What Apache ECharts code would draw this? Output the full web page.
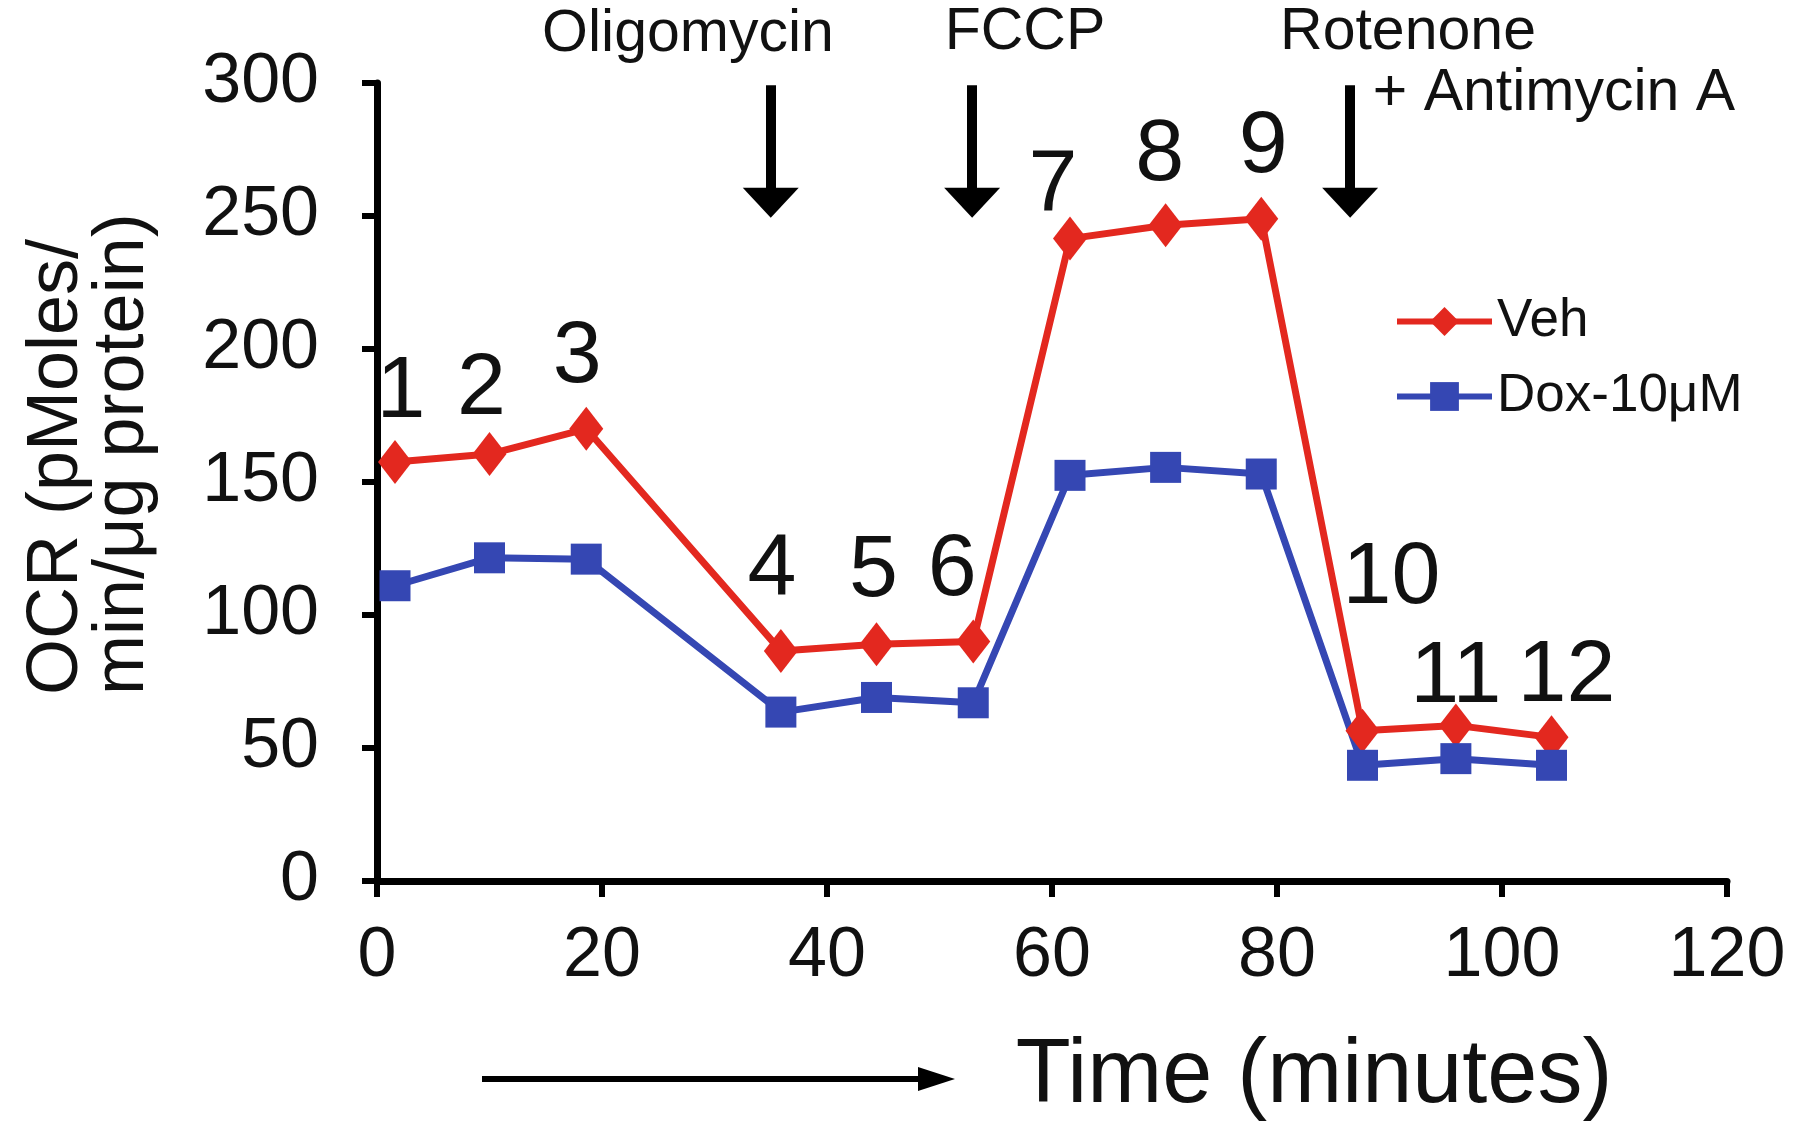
<!DOCTYPE html>
<html>
<head>
<meta charset="utf-8">
<script src="https://cdn.jsdelivr.net/npm/echarts@6/dist/echarts.min.js"></script>
<style>
html,body{margin:0;padding:0;background:#fff;}
#chart{width:1800px;height:1128px;}
</style>
</head>
<body>
<div id="chart"></div>
<script>
// ---- data ----
var times = [1.6, 10.0, 18.6, 35.9, 44.4, 53.0, 61.6, 70.1, 78.6, 87.6, 95.9, 104.4];
var vehValues = [157.5, 160.5, 170, 86.5, 89, 90, 241.5, 246.5, 249, 56.5, 58.5, 54];
var doxValues = [111, 121.5, 121, 63.5, 69, 67, 152.5, 155.5, 153, 43.5, 46, 43.5];
var pointLabels = ['1','2','3','4','5','6','7','8','9','10','11','12'];
var seriesNames = ['Veh', 'Dox-10\u03bcM'];
var xTicks = [0, 20, 40, 60, 80, 100, 120];
var yTicks = [0, 50, 100, 150, 200, 250, 300];
var injectionNames = ['Oligomycin', 'FCCP', 'Rotenone', '+ Antimycin A'];
var injectionTimes = [35.0, 52.9, 86.5];
var arrowSpan = [299.2, 255]; // OCR range of the injection arrows

// ---- styles (kept apart from data) ----
var labelOffsets = [[6,-69],[-8,-64],[-9,-71],[-9,-80],[-3,-73],[-21,-71],[-17,-52],[-6,-70],[2,-71],[29,-152],[0,-48],[15,-61]];
var FONT = 'Liberation Sans, Arial, Helvetica, sans-serif';
var RED = '#E3281F';
var BLUE = '#3547B3';
var INK = '#111111';

var vehData = times.map(function (t, i) {
  return {
    value: [t, vehValues[i]],
    label: { offset: labelOffsets[i] }
  };
});
var doxData = times.map(function (t, i) { return [t, doxValues[i]]; });

var arrowData = injectionTimes.map(function (t) {
  return [{ coord: [t, arrowSpan[0]] }, { coord: [t, arrowSpan[1]] }];
});

var chart = echarts.init(document.getElementById('chart'), null, { renderer: 'canvas' });

var option = {
  backgroundColor: '#ffffff',
  animation: false,
  grid: { left: 377, right: 73, top: 83, bottom: 247, containLabel: false },
  legend: {
    orient: 'vertical',
    left: 1394,
    top: 295,
    padding: 0,
    itemWidth: 95,
    itemHeight: 36,
    itemGap: 22,
    data: seriesNames,
    lineStyle: { width: 6 },
    textStyle: { fontFamily: FONT, fontSize: 53, color: INK }
  },
  xAxis: {
    type: 'value',
    min: xTicks[0],
    max: xTicks[xTicks.length - 1],
    interval: xTicks[1] - xTicks[0],
    axisLine: { show: true, lineStyle: { color: '#000', width: 7 } },
    axisTick: { show: true, inside: false, length: 16, lineStyle: { color: '#000', width: 6 } },
    splitLine: { show: false },
    axisLabel: { fontFamily: FONT, fontSize: 70, color: INK, margin: 41, lineHeight: 70 }
  },
  yAxis: {
    type: 'value',
    min: yTicks[0],
    max: yTicks[yTicks.length - 1],
    interval: yTicks[1] - yTicks[0],
    axisLine: { show: true, lineStyle: { color: '#000', width: 7 } },
    axisTick: { show: true, inside: false, length: 15, lineStyle: { color: '#000', width: 6 } },
    splitLine: { show: false },
    axisLabel: { fontFamily: FONT, fontSize: 70, color: INK, margin: 58 }
  },
  series: [
    {
      name: seriesNames[0],
      type: 'line',
      data: vehData,
      symbol: 'diamond',
      symbolSize: [34, 44],
      itemStyle: { color: RED },
      lineStyle: { color: RED, width: 7 },
      label: {
        show: true,
        position: 'inside',
        fontFamily: FONT,
        fontSize: 88,
        color: INK,
        formatter: function (p) { return pointLabels[p.dataIndex]; }
      },
      emphasis: { disabled: true },
      markLine: {
        silent: true,
        symbol: ['none', 'triangle'],
        symbolSize: [56, 30],
        label: { show: false },
        lineStyle: { color: '#000', width: 10, type: 'solid' },
        emphasis: { disabled: true },
        data: arrowData
      },
      z: 3
    },
    {
      name: seriesNames[1],
      type: 'line',
      data: doxData,
      symbol: 'rect',
      symbolSize: 31,
      itemStyle: { color: BLUE },
      lineStyle: { color: BLUE, width: 7 },
      emphasis: { disabled: true },
      z: 3
    }
  ],
  graphic: [
    { type: 'text', x: 688, y: 35, style: { text: injectionNames[0], font: '59px ' + FONT, fill: INK, align: 'center', verticalAlign: 'middle' } },
    { type: 'text', x: 1025, y: 33, style: { text: injectionNames[1], font: '59px ' + FONT, fill: INK, align: 'center', verticalAlign: 'middle' } },
    { type: 'text', x: 1408, y: 33, style: { text: injectionNames[2], font: '59px ' + FONT, fill: INK, align: 'center', verticalAlign: 'middle' } },
    { type: 'text', x: 1554, y: 94, style: { text: injectionNames[3], font: '59px ' + FONT, fill: INK, align: 'center', verticalAlign: 'middle' } },
    { type: 'text', x: 1314, y: 1077, style: { text: 'Time (minutes)', font: '90px ' + FONT, fill: INK, align: 'center', verticalAlign: 'middle' } },
    { type: 'text', x: 90, y: 695, rotation: Math.PI / 2, style: { text: 'OCR (pMoles/\nmin/\u03bcg protein)', font: '72px ' + FONT, lineHeight: 66, fill: INK, align: 'left', verticalAlign: 'middle' } },
    { type: 'line', shape: { x1: 482, y1: 1079, x2: 925, y2: 1079 }, style: { stroke: '#000', lineWidth: 6 } },
    { type: 'polygon', shape: { points: [[918, 1067], [955, 1079], [918, 1091]] }, style: { fill: '#000' } }
  ]
};

chart.setOption(option);
</script>
</body>
</html>
